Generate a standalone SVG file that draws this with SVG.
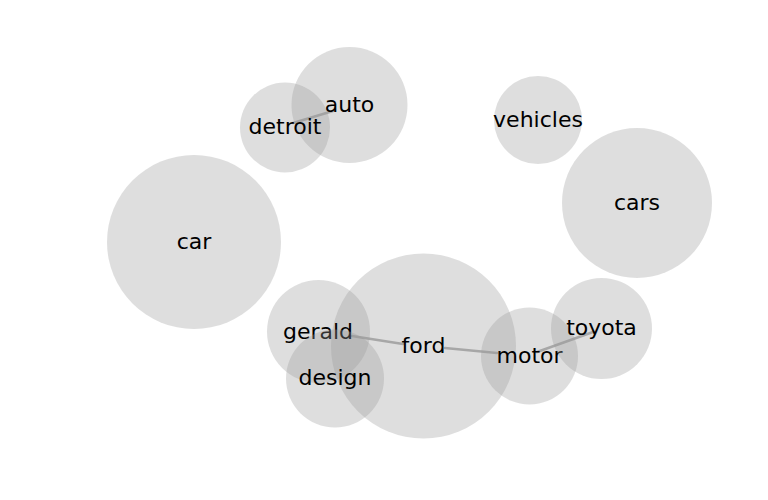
<svg xmlns="http://www.w3.org/2000/svg" width="768" height="500" viewBox="0 0 768 500">
<style>
.n circle{fill:#9c9c9c;fill-opacity:0.33}
.n text{font-family:"DejaVu Sans",sans-serif;font-size:22px;fill:#000;text-anchor:middle}
.e line{stroke:#aeaeae;stroke-width:2.5;stroke-linecap:round}
</style>
<rect width="768" height="500" fill="#fff"/>
<g id="connectors" class="e">
<line x1="293" y1="123" x2="333" y2="111"/>
<line x1="352" y1="336" x2="403" y2="344"/>
<line x1="445" y1="348" x2="497" y2="353"/>
<line x1="537" y1="352" x2="593" y2="332"/>
</g>
<g id="node-car" class="n"><circle cx="194" cy="242" r="87"/><text x="194" y="249">car</text></g>
<g id="node-auto" class="n"><circle cx="349.5" cy="105" r="58"/><text x="349.5" y="112">auto</text></g>
<g id="node-detroit" class="n"><circle cx="285" cy="127.5" r="45"/><text x="285" y="134">detroit</text></g>
<g id="node-vehicles" class="n"><circle cx="538" cy="120" r="44"/><text x="538" y="127">vehicles</text></g>
<g id="node-cars" class="n"><circle cx="637" cy="203" r="75"/><text x="637" y="210">cars</text></g>
<g id="node-ford" class="n"><circle cx="423.5" cy="346" r="92.5"/><text x="423.5" y="352.5">ford</text></g>
<g id="node-gerald" class="n"><circle cx="318.5" cy="331.5" r="51.5"/><text x="318" y="338.5">gerald</text></g>
<g id="node-design" class="n"><circle cx="335" cy="378.5" r="49"/><text x="335" y="385">design</text></g>
<g id="node-motor" class="n"><circle cx="529.5" cy="356" r="48.5"/><text x="529.5" y="362.5">motor</text></g>
<g id="node-toyota" class="n"><circle cx="601.5" cy="328.5" r="50.5"/><text x="601.5" y="335">toyota</text></g>
</svg>
